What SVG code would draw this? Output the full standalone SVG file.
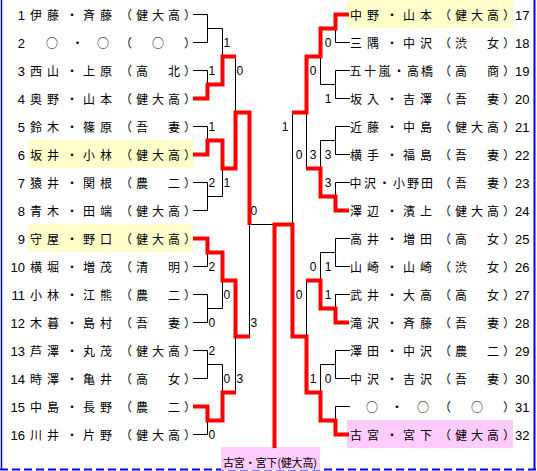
<svg xmlns="http://www.w3.org/2000/svg" width="537" height="471" viewBox="0 0 537 471">
<style>
.num{font-family:"Liberation Sans",Arial,sans-serif;font-size:13px;fill:#000}
.nr{text-anchor:end}
.nm{font-family:"Noto Sans CJK JP","Noto Sans CJK SC",sans-serif;font-size:12px;fill:#000;text-anchor:middle}
.sc{font-family:"Liberation Sans",Arial,sans-serif;font-size:12px;fill:#000}
.sr{text-anchor:end}
.ln{fill:none;stroke:#000;stroke-width:1;stroke-linecap:square}
.win{fill:none;stroke:#f00;stroke-width:4;stroke-linejoin:miter}
.ye{fill:#ffffcc}
.pk{fill:#ffccff}
.bd{stroke:#0000ff;fill:none}
</style>
<rect x="0" y="0" width="537" height="471" fill="#fff"/>

<!-- highlight boxes -->
<rect class="ye" x="28" y="140" width="165" height="28"/>
<rect class="ye" x="28" y="224" width="165" height="28"/>
<rect class="ye" x="347" y="0" width="166" height="28"/>
<rect class="pk" x="347" y="420" width="166" height="28"/>

<!-- frame -->
<line class="bd" x1="1.5" y1="0" x2="1.5" y2="469" stroke-width="1.5"/>
<line class="bd" x1="534.5" y1="0" x2="534.5" y2="469" stroke-width="2"/>
<line class="bd" x1="0" y1="469.5" x2="537" y2="469.5" stroke-width="2" stroke-dasharray="8 4"/>

<!-- champion -->
<g id="champion">
<rect class="pk" x="221" y="447" width="99" height="23"/>
<text x="223" y="467" font-family="Noto Sans CJK JP, Noto Sans CJK SC, sans-serif" font-size="11" textLength="94" lengthAdjust="spacing">古宮・宮下(健大高)</text>
</g>

<!-- connectors -->
<g id="connectors">
<g transform="translate(0.5,0.5)">
<path class="ln" d="
M193 14H207V42H193 M207 28H222V56
M193 70H207V84
M235 56V112
M193 126H207V140
M193 182H207V210H193 M207 196H222V168
M249 224V336 M249 224H274
M193 266H207V252
M193 294H207V322H193 M207 308H222V280
M193 350H207V378H193 M207 364H222V392
M193 434H207V420
M235 336V392
M349 42H335V28
M349 70H335V98H349 M335 84H320V56
M349 126H335V154H349 M335 140H320V168
M349 182H335V196
M306 112V168
M292 112V224
M349 238H335V266H349 M335 252H320V280
M349 294H335V308
M306 280V336
M349 350H335V378H349 M335 364H320V392
M349 406H335V420
"/>
</g>
<polyline class="win" points="193,98.5 207.5,98.5 207.5,84.5 222.5,84.5 222.5,56.5 236,56.5"/>
<polyline class="win" points="193,154.5 207.5,154.5 207.5,140.5 222.5,140.5 222.5,168.5 235.5,168.5 235.5,112.5 249.5,112.5 249.5,225"/>
<polyline class="win" points="193,238.5 207.5,238.5 207.5,252.5 222.5,252.5 222.5,280.5 235.5,280.5 235.5,336.5 250,336.5"/>
<polyline class="win" points="193,406.5 207.5,406.5 207.5,420.5 222.5,420.5 222.5,392.5 236,392.5"/>
<polyline class="win" points="349,14.5 335.5,14.5 335.5,28.5 320.5,28.5 320.5,56.5 306.5,56.5 306.5,112.5 292,112.5"/>
<polyline class="win" points="349,210.5 335.5,210.5 335.5,196.5 320.5,196.5 320.5,168.5 306,168.5"/>
<polyline class="win" points="349,322.5 335.5,322.5 335.5,308.5 320.5,308.5 320.5,280.5 306,280.5"/>
<polyline class="win" points="349,434.5 335.5,434.5 335.5,420.5 320.5,420.5 320.5,392.5 306.5,392.5 306.5,336.5 292.5,336.5 292.5,224.5 274.5,224.5 274.5,448"/>
</g>

<!-- scores -->
<g id="scores">
<text class="sc" x="223.5" y="47">1</text>
<text class="sc" x="208.5" y="75">1</text>
<text class="sc" x="236.5" y="75">0</text>
<text class="sc" x="208.5" y="131">1</text>
<text class="sc" x="208.5" y="187">2</text>
<text class="sc" x="223.5" y="187">1</text>
<text class="sc" x="250.5" y="215">0</text>
<text class="sc" x="208.5" y="271">2</text>
<text class="sc" x="223.5" y="299">0</text>
<text class="sc" x="208.5" y="327">0</text>
<text class="sc" x="250.5" y="327">3</text>
<text class="sc" x="208.5" y="355">2</text>
<text class="sc" x="223.5" y="383">0</text>
<text class="sc" x="236.5" y="383">3</text>
<text class="sc" x="208.5" y="439">0</text>
<text class="sc sr" x="331.5" y="47">0</text>
<text class="sc sr" x="316.5" y="75">0</text>
<text class="sc sr" x="331.5" y="103">1</text>
<text class="sc sr" x="288.5" y="131">1</text>
<text class="sc sr" x="302.5" y="159">0</text>
<text class="sc sr" x="316.5" y="159">3</text>
<text class="sc sr" x="331.5" y="159">3</text>
<text class="sc sr" x="331.5" y="187">3</text>
<text class="sc sr" x="316.5" y="271">0</text>
<text class="sc sr" x="331.5" y="271">1</text>
<text class="sc sr" x="302.5" y="299">0</text>
<text class="sc sr" x="331.5" y="299">1</text>
<text class="sc sr" x="316.5" y="383">1</text>
<text class="sc sr" x="331.5" y="383">0</text>
</g>

<!-- left entries -->
<g id="e1"><text class="num nr" x="25" y="20">1</text><text class="nm" x="36 53 72 89 106 126 142 158 174 190" y="19.5">伊藤・斉藤（健大高）</text></g>
<g id="e2"><text class="num nr" x="25" y="48">2</text><text class="nm" x="52 77.5 103 126 158 190" y="47.5">○・○（○）</text></g>
<g id="e3"><text class="num nr" x="25" y="76">3</text><text class="nm" x="36 53 72 89 106 126 142 158 174 190" y="75.5">西山・上原（高　北）</text></g>
<g id="e4"><text class="num nr" x="25" y="104">4</text><text class="nm" x="36 53 72 89 106 126 142 158 174 190" y="103.5">奥野・山本（健大高）</text></g>
<g id="e5"><text class="num nr" x="25" y="132">5</text><text class="nm" x="36 53 72 89 106 126 142 158 174 190" y="131.5">鈴木・篠原（吾　妻）</text></g>
<g id="e6"><text class="num nr" x="25" y="160">6</text><text class="nm" x="36 53 72 89 106 126 142 158 174 190" y="159.5">坂井・小林（健大高）</text></g>
<g id="e7"><text class="num nr" x="25" y="188">7</text><text class="nm" x="36 53 72 89 106 126 142 158 174 190" y="187.5">猿井・関根（農　二）</text></g>
<g id="e8"><text class="num nr" x="25" y="216">8</text><text class="nm" x="36 53 72 89 106 126 142 158 174 190" y="215.5">青木・田端（健大高）</text></g>
<g id="e9"><text class="num nr" x="25" y="244">9</text><text class="nm" x="36 53 72 89 106 126 142 158 174 190" y="243.5">守屋・野口（健大高）</text></g>
<g id="e10"><text class="num nr" x="25" y="272">10</text><text class="nm" x="36 53 72 89 106 126 142 158 174 190" y="271.5">横堀・増茂（清　明）</text></g>
<g id="e11"><text class="num nr" x="25" y="300">11</text><text class="nm" x="36 53 72 89 106 126 142 158 174 190" y="299.5">小林・江熊（農　二）</text></g>
<g id="e12"><text class="num nr" x="25" y="328">12</text><text class="nm" x="36 53 72 89 106 126 142 158 174 190" y="327.5">木暮・島村（吾　妻）</text></g>
<g id="e13"><text class="num nr" x="25" y="356">13</text><text class="nm" x="36 53 72 89 106 126 142 158 174 190" y="355.5">芦澤・丸茂（健大高）</text></g>
<g id="e14"><text class="num nr" x="25" y="384">14</text><text class="nm" x="36 53 72 89 106 126 142 158 174 190" y="383.5">時澤・亀井（高　女）</text></g>
<g id="e15"><text class="num nr" x="25" y="412">15</text><text class="nm" x="36 53 72 89 106 126 142 158 174 190" y="411.5">中島・長野（農　二）</text></g>
<g id="e16"><text class="num nr" x="25" y="440">16</text><text class="nm" x="36 53 72 89 106 126 142 158 174 190" y="439.5">川井・片野（健大高）</text></g>

<!-- right entries -->
<g id="e17"><text class="nm" x="356 373 392 409 426 445 461 477 493 509" y="19.5">中野・山本（健大高）</text><text class="num" x="515" y="20">17</text></g>
<g id="e18"><text class="nm" x="356 373 392 409 426 445 461 477 493 509" y="47.5">三隅・中沢（渋　女）</text><text class="num" x="515" y="48">18</text></g>
<g id="e19"><text class="nm" x="355.5 370 384.5 399 413 427 445 461 477 493 509" y="75.5">五十嵐・高橋（高　商）</text><text class="num" x="515" y="76">19</text></g>
<g id="e20"><text class="nm" x="356 373 392 409 426 445 461 477 493 509" y="103.5">坂入・吉澤（吾　妻）</text><text class="num" x="515" y="104">20</text></g>
<g id="e21"><text class="nm" x="356 373 392 409 426 445 461 477 493 509" y="131.5">近藤・中島（健大高）</text><text class="num" x="515" y="132">21</text></g>
<g id="e22"><text class="nm" x="356 373 392 409 426 445 461 477 493 509" y="159.5">横手・福島（吾　妻）</text><text class="num" x="515" y="160">22</text></g>
<g id="e23"><text class="nm" x="355.5 370 384.5 399 413 427 445 461 477 493 509" y="187.5">中沢・小野田（吾　妻）</text><text class="num" x="515" y="188">23</text></g>
<g id="e24"><text class="nm" x="356 373 392 409 426 445 461 477 493 509" y="215.5">澤辺・濱上（健大高）</text><text class="num" x="515" y="216">24</text></g>
<g id="e25"><text class="nm" x="356 373 392 409 426 445 461 477 493 509" y="243.5">高井・増田（高　女）</text><text class="num" x="515" y="244">25</text></g>
<g id="e26"><text class="nm" x="356 373 392 409 426 445 461 477 493 509" y="271.5">山崎・山崎（渋　女）</text><text class="num" x="515" y="272">26</text></g>
<g id="e27"><text class="nm" x="356 373 392 409 426 445 461 477 493 509" y="299.5">武井・大高（高　女）</text><text class="num" x="515" y="300">27</text></g>
<g id="e28"><text class="nm" x="356 373 392 409 426 445 461 477 493 509" y="327.5">滝沢・斉藤（吾　妻）</text><text class="num" x="515" y="328">28</text></g>
<g id="e29"><text class="nm" x="356 373 392 409 426 445 461 477 493 509" y="355.5">澤田・中沢（農　二）</text><text class="num" x="515" y="356">29</text></g>
<g id="e30"><text class="nm" x="356 373 392 409 426 445 461 477 493 509" y="383.5">中沢・吉沢（吾　妻）</text><text class="num" x="515" y="384">30</text></g>
<g id="e31"><text class="nm" x="372 397 423 445 477 509" y="411.5">○・○（○）</text><text class="num" x="515" y="412">31</text></g>
<g id="e32"><text class="nm" x="356 373 392 409 426 445 461 477 493 509" y="439.5">古宮・宮下（健大高）</text><text class="num" x="515" y="440">32</text></g>
</svg>
